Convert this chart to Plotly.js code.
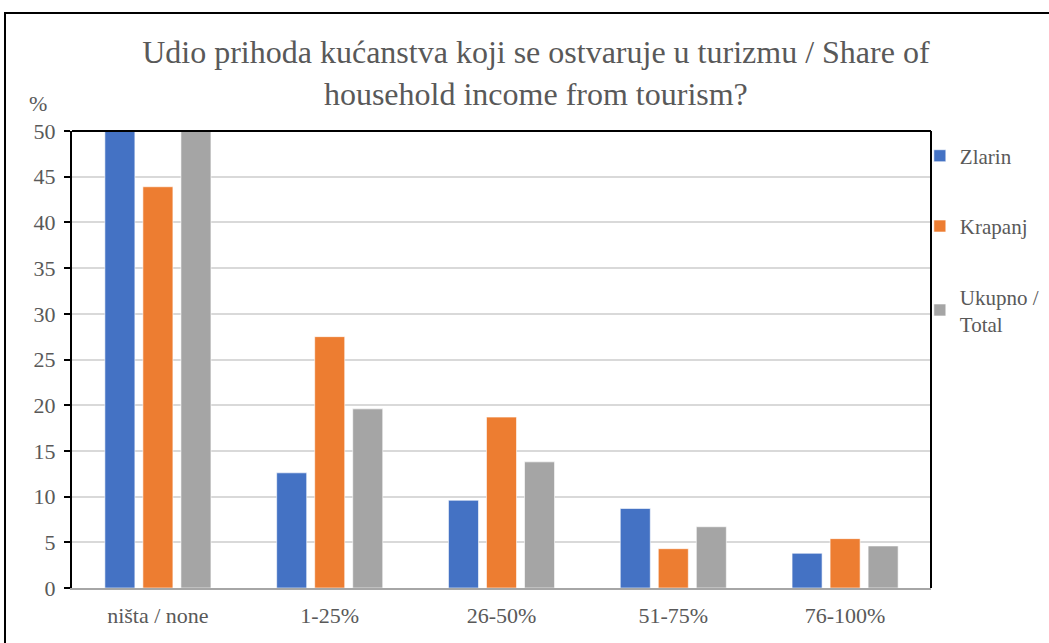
<!DOCTYPE html>
<html>
<head>
<meta charset="utf-8">
<script src="https://cdn.plot.ly/plotly-3.0.1.min.js"></script>
<style>
html,body{margin:0;padding:0;background:#fff;}
#chart{width:1049px;height:643px;}
</style>
</head>
<body>
<div id="chart"></div>
<script>
const categories = ['ništa / none', '1-25%', '26-50%', '51-75%', '76-100%'];
const zlarin  = [65.3, 12.6, 9.6, 8.7, 3.8];
const krapanj = [43.9, 27.5, 18.7, 4.3, 5.4];
const ukupno  = [55.3, 19.6, 13.8, 6.7, 4.6];
const seriesNames = ['Zlarin', 'Krapanj', 'Ukupno /<br>Total'];
const colors = ['#4472C4', '#ED7D31', '#A5A5A5'];
const yTicks = [0, 5, 10, 15, 20, 25, 30, 35, 40, 45, 50];

const font = 'Liberation Serif';
const txt = '#595959';

function draw() {
  const traces = [zlarin, krapanj, ukupno].map((vals, i) => ({
    type: 'bar',
    x: categories,
    y: vals,
    name: seriesNames[i],
    legendgroup: 'g' + i,
    marker: {color: colors[i], line: {color: 'rgba(255,255,255,0.6)', width: 1}},
    cliponaxis: true,
    hoverinfo: 'x+y+name'
  }));

  const layout = {
    width: 1049,
    height: 643,
    margin: {l: 72, r: 118, t: 131, b: 55, autoexpand: false},
    paper_bgcolor: '#fff',
    plot_bgcolor: '#fff',
    font: {family: font, color: txt, size: 22},
    title: {
      text: 'Udio prihoda kućanstva koji se ostvaruje u turizmu / Share of<br>household income from tourism?',
      font: {family: font, size: 32, color: txt},
      x: 0.54, xref: 'paper', xanchor: 'center',
      y: 0.902, yref: 'container', yanchor: 'middle'
    },
    barmode: 'group',
    bargap: 0.336,
    bargroupgap: 0.21,
    xaxis: {
      type: 'category',
      showgrid: false,
      showline: true,
      linecolor: '#A6A6A6',
      linewidth: 2,
      ticks: '',
      ticklabelstandoff: 7,
      tickfont: {family: font, size: 22, color: txt},
      automargin: false
    },
    yaxis: {
      range: [0, 50],
      tickvals: yTicks,
      ticktext: yTicks.map(String),
      showgrid: true,
      gridcolor: '#D9D9D9',
      gridwidth: 1.5,
      zeroline: false,
      showline: true,
      linecolor: '#000',
      linewidth: 2,
      ticks: 'outside',
      ticklen: 6,
      tickwidth: 2,
      tickcolor: '#000',
      ticklabelstandoff: 4,
      tickfont: {family: font, size: 22, color: txt},
      automargin: false
    },
    showlegend: true,
    legend: {
      x: 0.987, xanchor: 'left',
      y: 0.99, yanchor: 'top',
      traceorder: 'grouped',
      tracegroupgap: 40,
      font: {family: font, size: 21, color: txt},
      bgcolor: 'rgba(0,0,0,0)',
      itemclick: false
    },
    annotations: [{
      text: '%', xref: 'paper', yref: 'paper',
      x: -0.04, y: 1.06, xanchor: 'center', yanchor: 'middle',
      showarrow: false, font: {family: font, size: 22, color: txt}
    }],
    shapes: [
      {type: 'line', xref: 'paper', yref: 'paper', x0: 0, x1: 1, y0: 1, y1: 1, line: {color: '#000', width: 2}},
      {type: 'line', xref: 'paper', yref: 'paper', x0: 1, x1: 1, y0: 0, y1: 1, line: {color: '#000', width: 2}},
      {type: 'rect', xref: 'paper', yref: 'paper', x0: -0.078, x1: 1.2, y0: -0.2, y1: 1.258, line: {color: '#000', width: 2}, fillcolor: 'rgba(0,0,0,0)', layer: 'below'}
    ]
  };

  Plotly.newPlot('chart', traces, layout, {displayModeBar: false});
}

if (document.fonts && document.fonts.load) {
  document.fonts.load('20px "Liberation Serif"', 'Udio kućanstva').then(draw, draw);
} else {
  draw();
}
</script>
</body>
</html>
